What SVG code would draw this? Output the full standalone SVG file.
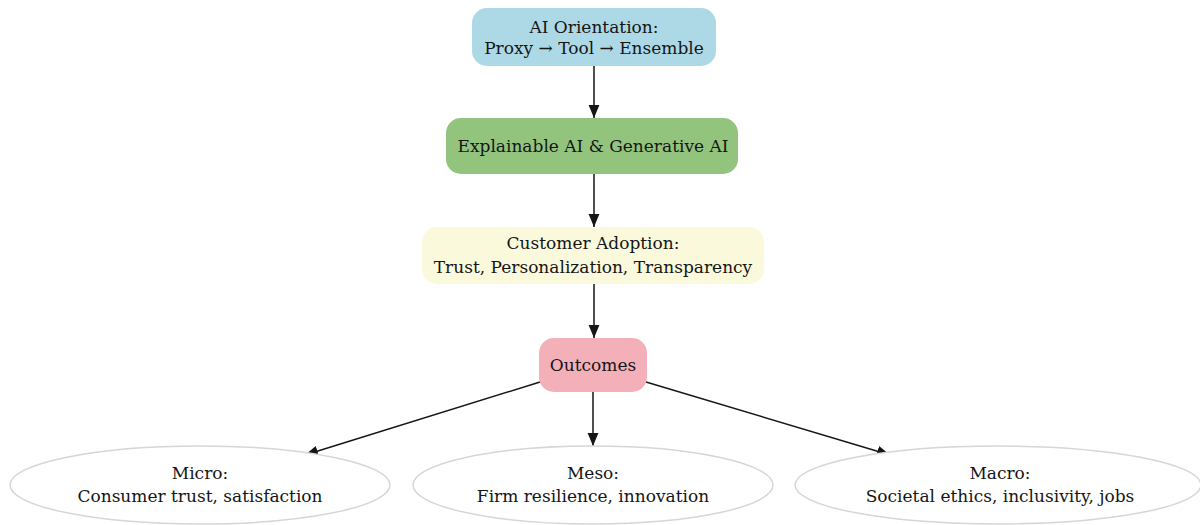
<svg xmlns="http://www.w3.org/2000/svg" width="1200" height="525" viewBox="0 0 1200 525">
  <style>
    .lbl { font-family: "DejaVu Serif", "Liberation Serif", serif; font-size: 17px; fill: #151515; text-anchor: middle; }
    .edge { stroke: #151515; stroke-width: 1.5; fill: none; marker-end: url(#arrow); }
    .leaf { fill: #ffffff; stroke: #d6d6d6; stroke-width: 1.5; }
  </style>
  <defs>
    <marker id="arrow" viewBox="0 0 12 12" refX="12" refY="6" markerWidth="13" markerHeight="13" markerUnits="userSpaceOnUse" orient="auto">
      <path d="M0,1 L12,6 L0,11 z" fill="#151515"/>
    </marker>
  </defs>
  <rect width="1200" height="525" fill="#ffffff"/>

  <g id="connectors">
    <line class="edge" x1="594" y1="66" x2="594" y2="118"/>
    <line class="edge" x1="594" y1="174" x2="594" y2="227"/>
    <line class="edge" x1="594" y1="284" x2="594" y2="338"/>
    <line class="edge" x1="593" y1="392" x2="593" y2="446"/>
    <line class="edge" x1="540" y1="382" x2="305" y2="455"/>
    <line class="edge" x1="646" y1="382" x2="890" y2="455"/>
  </g>

  <g id="orientation">
    <rect x="472" y="8" width="244" height="58" rx="15" fill="#add8e6"/>
    <text class="lbl" x="594" y="33">AI Orientation:</text>
    <text class="lbl" x="594" y="54">Proxy → Tool → Ensemble</text>
  </g>

  <g id="xai-genai">
    <rect x="446" y="118" width="292" height="56" rx="15" fill="#93c47d"/>
    <text class="lbl" x="593" y="152">Explainable AI &amp; Generative AI</text>
  </g>

  <g id="adoption">
    <rect x="422" y="227" width="342" height="57" rx="15" fill="#fbf9dc"/>
    <text class="lbl" x="593" y="249">Customer Adoption:</text>
    <text class="lbl" x="593" y="273">Trust, Personalization, Transparency</text>
  </g>

  <g id="outcomes">
    <rect x="539" y="338" width="108" height="54" rx="15" fill="#f4b0b9"/>
    <text class="lbl" x="593" y="371">Outcomes</text>
  </g>

  <g id="micro">
    <ellipse class="leaf" cx="200" cy="485" rx="190" ry="39"/>
    <text class="lbl" x="200" y="479">Micro:</text>
    <text class="lbl" x="200" y="502">Consumer trust, satisfaction</text>
  </g>

  <g id="meso">
    <ellipse class="leaf" cx="593" cy="485" rx="180" ry="39"/>
    <text class="lbl" x="593" y="479">Meso:</text>
    <text class="lbl" x="593" y="502">Firm resilience, innovation</text>
  </g>

  <g id="macro">
    <ellipse class="leaf" cx="998" cy="485" rx="203" ry="39"/>
    <text class="lbl" x="1000" y="479">Macro:</text>
    <text class="lbl" x="1000" y="502">Societal ethics, inclusivity, jobs</text>
  </g>
</svg>
